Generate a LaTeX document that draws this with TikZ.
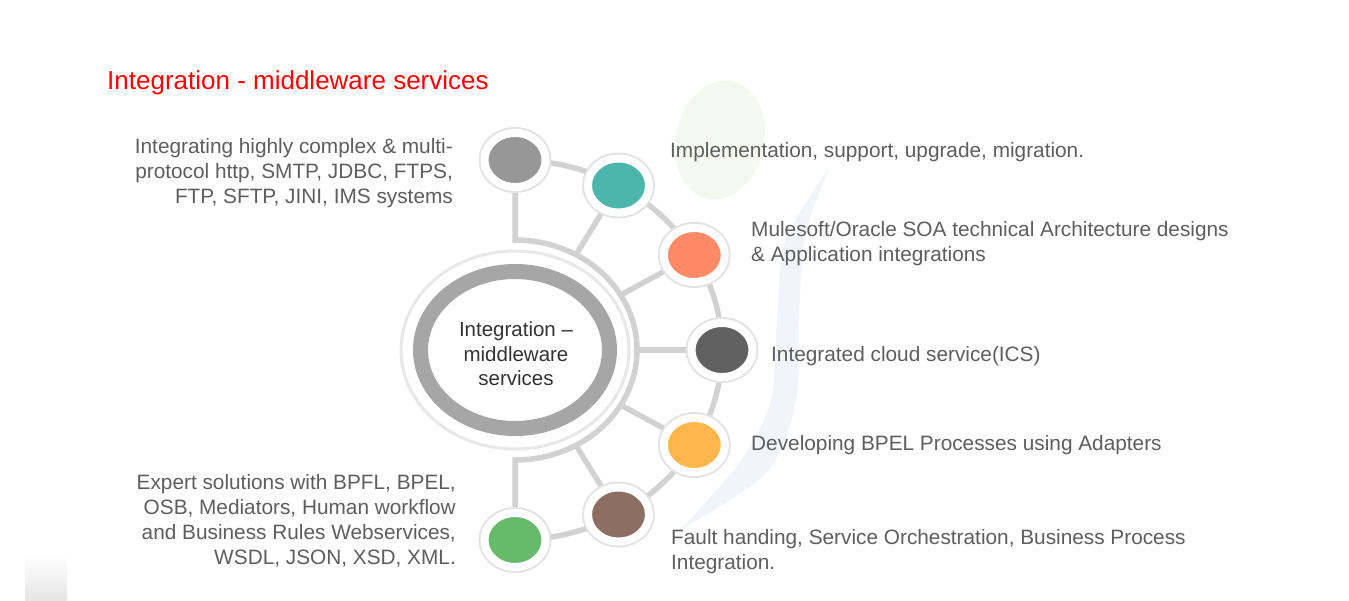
\documentclass[tikz,border=0pt]{standalone}
\usepackage{fontspec}
\setmainfont{Liberation Sans}
\usetikzlibrary{shapes.geometric,backgrounds}
\definecolor{conncol}{HTML}{D2D2D2}
\definecolor{txtcol}{HTML}{5E5E5E}
\definecolor{hubtxtcol}{HTML}{333333}
\definecolor{ringcol}{HTML}{A6A6A6}
\definecolor{cgray}{HTML}{979797}
\definecolor{cteal}{HTML}{4DB6AC}
\definecolor{corange}{HTML}{FF8A65}
\definecolor{cdark}{HTML}{616161}
\definecolor{cyellow}{HTML}{FFB74D}
\definecolor{cbrown}{HTML}{8D6E63}
\definecolor{cgreen}{HTML}{66BB6A}
\definecolor{wmgreen}{HTML}{F4F9F0}
\definecolor{wmblue}{HTML}{F0F5FB}
\begin{document}
\begin{tikzpicture}[x=1pt,y=-1pt,
  conn/.style={draw=conncol, line width=5.5pt},
  dot/.style={ellipse, minimum width=61pt, minimum height=54pt, inner sep=0pt,
    fill=#1, draw=white, line width=8pt, preaction={draw=black!11, line width=12pt}},
  lbl/.style={text=txtcol, inner sep=0pt, font=\fontsize{20.8}{25}\selectfont},
  ttl/.style={text=red, inner sep=0pt, font=\fontsize{26}{30}\selectfont},
  hubtxt/.style={text=hubtxtcol, inner sep=0pt, align=center, font=\fontsize{20.5}{24.5}\selectfont}]
\useasboundingbox (0,0) rectangle (1349,600);

% nodes
\coordinate (C) at (515,350);
\node[ellipse, minimum width=228pt, minimum height=198pt, fill=white, draw=black!9, line width=3pt] (hub) at (C) {};
\node[ellipse, minimum width=189pt, minimum height=157pt, draw=ringcol, line width=15pt] (ring) at (C) {};
\node[hubtxt] (hubt) at (516,354) {Integration –\\middleware\\services};

\node[dot=cgray]   (n1) at (515,160) {};
\node[dot=cteal]   (n2) at (618.5,185.5) {};
\node[dot=corange] (n3) at (694.3,255) {};
\node[dot=cdark]   (n4) at (722,350) {};
\node[dot=cyellow] (n5) at (694.3,445) {};
\node[dot=cbrown]  (n6) at (618.5,514.5) {};
\node[dot=cgreen]  (n7) at (515,540) {};

\coordinate (itop) at (515,240);
\coordinate (s2) at (576,254.7);
\coordinate (s3) at (620.7,295);
\coordinate (s4) at (637,350);
\coordinate (s5) at (620.7,405);
\coordinate (s6) at (576,445.3);

\begin{scope}[on background layer]
  \fill[white] (0,0) rectangle (1349,600);
  % watermark shapes
  \fill[wmgreen, rotate around={-12:(720,140)}] (720,140) ellipse [x radius=44, y radius=60];
  \fill[wmblue] plot[smooth] coordinates {(830,166) (805,235) (799,320) (796,400) (767,472) (680,530)}
    -- plot[smooth] coordinates {(680,530) (740,462) (771,400) (777,320) (786,240) (830,166)} -- cycle;
  \shade[top color=white, bottom color=black!10] (25,555) rectangle (67,600);
  % connectors
  \draw[conn] (n1.center) -- (itop) arc[start angle=-90, end angle=90, x radius=122, y radius=110] -- (n7.center);
  \draw[conn] (n1.center) arc[start angle=-90, end angle=90, x radius=207, y radius=190];
  \draw[conn] (s2) -- (n2.center);
  \draw[conn] (s3) -- (n3.center);
  \draw[conn] (s4) -- (n4.center);
  \draw[conn] (s5) -- (n5.center);
  \draw[conn] (s6) -- (n6.center);
\end{scope}

% texts
\node[ttl, anchor=west] (title) at (107,83) {Integration - middleware services};
\node[lbl, anchor=east, align=right] (t1) at (453,173) {Integrating highly complex \& multi-\\protocol http, SMTP, JDBC, FTPS,\\FTP, SFTP, JINI, IMS systems};
\node[lbl, anchor=west, align=left] (t2) at (670,152) {Implementation, support, upgrade, migration.};
\node[lbl, anchor=west, align=left] (t3) at (751,243.5) {Mulesoft/Oracle SOA technical Architecture designs\\\& Application integrations};
\node[lbl, anchor=west, align=left] (t4) at (771,356) {Integrated cloud service(ICS)};
\node[lbl, anchor=west, align=left] (t5) at (751,445) {Developing BPEL Processes using Adapters};
\node[lbl, anchor=west, align=left] (t6) at (671,552) {Fault handing, Service Orchestration, Business Process\\Integration.};
\node[lbl, anchor=east, align=right] (t7) at (456,520.5) {Expert solutions with BPFL, BPEL,\\OSB, Mediators, Human workflow\\and Business Rules Webservices,\\WSDL, JSON, XSD, XML.};
\end{tikzpicture}
\end{document}
